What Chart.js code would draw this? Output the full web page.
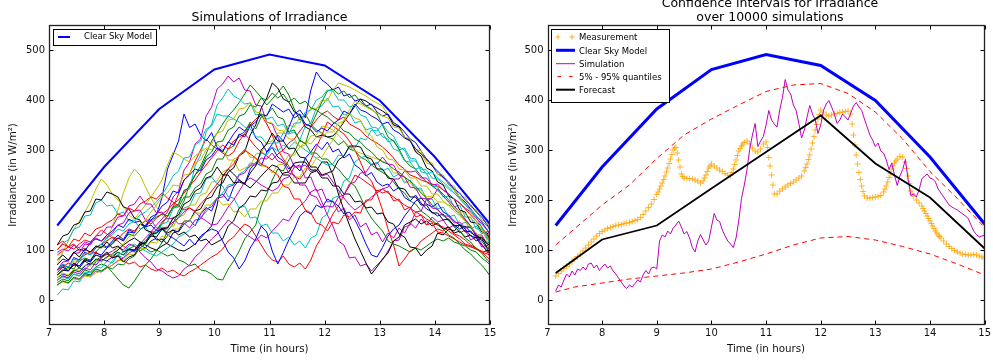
<!DOCTYPE html>
<html><head><meta charset="utf-8">
<script src="https://cdn.jsdelivr.net/npm/chart.js@4.4.1/dist/chart.umd.min.js"></script>
<style>
html,body{margin:0;padding:0;background:#fff}
body{position:relative;width:993px;height:360px;overflow:hidden;font-family:"DejaVu Sans",sans-serif;color:#000}
canvas{position:absolute;top:0}
#c1{left:0}
#c2{left:500px}
.ttl{position:absolute;text-align:center;font-size:12.5px;white-space:nowrap}
#ov{position:absolute;left:0;top:0}
.lt{position:absolute;font-size:8.5px;line-height:10px;white-space:nowrap}
</style>
</head><body>
<canvas id="c1" width="500" height="360"></canvas>
<canvas id="c2" width="493" height="360"></canvas>
<div class="ttl" style="left:49px;width:441px;top:8.9px;line-height:15px">Simulations of Irradiance</div>
<div class="ttl" style="left:549px;width:442px;top:-3.7px;line-height:13.4px">Confidence intervals for Irradiance<br>over 10000 simulations</div>
<svg id="ov" width="993" height="360">
 <rect x="53.5" y="29.5" width="103" height="16" fill="#fff" stroke="#000" stroke-width="1"/>
 <line x1="58" y1="37" x2="70" y2="37" stroke="#0000ff" stroke-width="2"/>
 <rect x="551.5" y="29.5" width="118" height="73" fill="#fff" stroke="#000" stroke-width="1"/>
 <path d="M555.5 37h5M558 34.5v5M569.5 37h5M572 34.5v5" stroke="rgba(255,165,0,0.85)" stroke-width="1" fill="none"/>
 <line x1="556" y1="50.3" x2="575" y2="50.3" stroke="#0000ff" stroke-width="3"/>
 <line x1="556" y1="63.7" x2="575" y2="63.7" stroke="#bf00bf" stroke-width="1"/>
 <path d="M557.5 76.5h3.5M569 76.5h3.5" stroke="#ff0000" stroke-width="1" fill="none"/>
 <line x1="556" y1="89.7" x2="575" y2="89.7" stroke="#000" stroke-width="2"/>
</svg>
<span class="lt" style="left:84px;top:30.8px">Clear Sky Model</span>
<span class="lt" style="left:579px;top:32.3px">Measurement</span>
<span class="lt" style="left:579px;top:45.6px">Clear Sky Model</span>
<span class="lt" style="left:579px;top:58.9px">Simulation</span>
<span class="lt" style="left:579px;top:71.8px">5% - 95% quantiles</span>
<span class="lt" style="left:579px;top:85px">Forecast</span>
<script>
// ---------- DATA ----------
const xTicks = [7, 8, 9, 10, 11, 12, 13, 14, 15];
const yTicks = [0, 100, 200, 300, 400, 500];

const clearTimes = [7.15, 8, 9, 10, 11, 12, 13, 14, 15];
const clearSky = [149, 266, 382, 461, 491, 469, 399, 286, 152];

const forecastTimes = [7.15, 8, 9, 10, 11, 12, 13, 14, 15];
const forecast = [54, 121, 149, 223, 296, 369, 273, 205, 103];

const quantTimes = [7.15, 7.5, 8, 8.5, 9, 9.5, 10, 10.5, 11, 11.5, 12, 12.5, 13, 13.5, 14, 14.5, 15];
const q95 = [110, 143, 190, 230, 283, 330, 362, 390, 417, 430, 433, 413, 376, 322, 257, 203, 145];
const q05 = [16, 26, 34, 42, 48, 54, 62, 76, 92, 110, 124, 127, 120, 107, 92, 72, 50];

const measTimes = [
7.15,7.2,7.25,7.3,7.35,7.4,7.45,7.5,7.55,7.6,7.65,7.7,7.75,7.8,7.85,7.9,7.95,8,8.05,8.1,
8.15,8.2,8.25,8.3,8.35,8.4,8.45,8.5,8.55,8.6,8.65,8.7,8.75,8.8,8.85,8.9,8.95,
9,9.025,9.05,9.075,9.1,9.125,9.15,9.175,9.2,9.225,9.25,9.275,9.3,9.325,9.35,9.375,9.4,9.425,9.45,9.475,9.5,
9.55,9.6,9.65,9.7,9.75,9.8,9.85,9.875,9.9,9.925,9.95,9.975,10,10.05,10.1,
10.15,10.2,10.25,10.3,10.35,10.375,10.4,10.425,10.45,10.475,10.5,10.525,10.55,10.575,10.6,
10.65,10.7,10.75,10.8,10.85,10.9,10.95,11,11.025,11.05,11.075,11.1,11.125,
11.15,11.2,11.25,11.3,11.35,11.4,11.45,11.5,11.55,11.6,11.65,11.7,11.725,11.75,11.775,11.8,11.825,11.85,11.875,11.9,11.925,11.95,11.975,12,12.05,12.1,
12.15,12.2,12.25,12.3,12.35,12.4,12.45,12.5,12.55,12.575,12.6,12.625,12.65,12.675,12.7,12.725,12.75,12.775,12.8,12.85,12.9,12.95,13,13.05,13.1,
13.15,13.175,13.2,13.225,13.25,13.275,13.3,13.325,13.35,13.375,13.4,13.45,13.5,13.55,13.575,13.6,13.625,13.65,13.675,13.7,13.75,13.8,13.85,
13.875,13.9,13.925,13.95,13.975,14,14.025,14.05,14.075,14.1,14.125,14.15,14.175,14.2,
14.25,14.3,14.35,14.4,14.45,14.5,14.55,14.6,14.65,14.7,14.75,14.8,14.85,14.9,14.95,15];
const measurement = [
48,53,58,63,67,72,77,82,87,92,98,104,110,116,122,128,133,137,140,143,
145,147,149,150,151,153,154,155,157,159,161,165,171,178,185,192,201,
211,216,222,228,234,241,248,256,264,273,282,291,300,304,305,294,280,266,252,247,244,
243,243,242,240,238,234,238,244,250,257,264,268,272,268,264,
260,257,253,250,249,255,262,271,280,289,298,303,308,312,315,
318,312,304,298,296,302,312,316,305,285,268,250,230,
212,212,218,222,226,230,233,236,240,244,248,258,265,272,281,290,302,314,327,340,351,362,371,380,376,370,
368,370,372,373,375,376,377,378,372,352,330,310,290,272,255,241,228,217,208,204,204,205,206,207,209,
216,222,228,236,245,253,262,268,274,278,282,287,286,276,263,248,233,218,212,208,200,194,188,
183,178,173,168,163,158,153,148,143,138,134,130,127,124,
118,112,107,103,99,96,94,92,91,90,90,91,90,88,86,84];

const simuTimes = [
7.15,7.2,7.25,7.3,7.35,7.4,7.45,7.5,7.55,7.6,7.65,7.7,7.75,7.8,7.85,7.9,7.95,8,8.05,8.1,
8.15,8.2,8.25,8.3,8.35,8.4,8.45,8.5,8.55,8.6,8.65,8.7,8.75,8.8,8.85,8.9,8.95,9,9.05,9.1,
9.15,9.2,9.25,9.3,9.35,9.4,9.45,9.5,9.55,9.6,9.65,9.7,9.75,9.8,9.85,9.9,9.95,10,10.05,10.1,
10.15,10.2,10.25,10.3,10.35,10.4,10.45,10.5,10.55,10.6,10.65,10.7,10.75,10.8,10.85,10.9,10.95,11,11.05,11.1,
11.15,11.2,11.25,11.3,11.35,11.4,11.45,11.5,11.55,11.6,11.65,11.7,11.75,11.8,11.85,11.9,11.95,12,12.05,12.1,
12.15,12.2,12.25,12.3,12.35,12.4,12.45,12.5,12.55,12.6,12.65,12.7,12.75,12.8,12.85,12.9,12.95,13,13.05,13.1,
13.15,13.2,13.25,13.3,13.35,13.4,13.45,13.5,13.55,13.6,13.65,13.7,13.75,13.8,13.85,13.9,13.95,14,14.05,14.1,
14.15,14.2,14.25,14.3,14.35,14.4,14.45,14.5,14.55,14.6,14.65,14.7,14.75,14.8,14.85,14.9,14.95,15];
const simulation = [
18,30,26,40,52,46,58,50,62,59,66,60,72,74,64,70,59,66,72,64,
68,58,52,44,36,28,23,30,26,33,40,36,50,59,52,64,66,62,118,130,
126,138,132,144,150,158,146,132,137,124,105,96,118,131,120,110,118,146,173,160,
157,140,128,118,112,105,124,158,203,229,260,301,330,353,307,318,327,350,379,360,
352,346,380,405,441,420,412,390,379,353,324,340,366,389,372,360,333,350,379,392,
399,386,372,353,360,372,366,360,374,388,395,386,379,362,346,330,320,307,314,298,
294,280,261,274,250,229,248,261,281,240,209,212,206,220,242,248,252,244,242,236,
222,214,206,198,190,186,183,180,176,172,168,163,150,138,131,126,128,130];

const simTimes = [
7.15,7.25,7.35,7.45,7.55,7.65,7.75,7.85,7.95,8.05,
8.15,8.25,8.35,8.45,8.55,8.65,8.75,8.85,8.95,9.05,
9.15,9.25,9.35,9.45,9.55,9.65,9.75,9.85,9.95,10.05,
10.15,10.25,10.35,10.45,10.55,10.65,10.75,10.85,10.95,11.05,
11.15,11.25,11.35,11.45,11.55,11.65,11.75,11.85,11.95,12.05,
12.15,12.25,12.35,12.45,12.55,12.65,12.75,12.85,12.95,13.05,
13.15,13.25,13.35,13.45,13.55,13.65,13.75,13.85,13.95,14.05,
14.15,14.25,14.35,14.45,14.55,14.65,14.75,14.85,14.95,15];

const simB1 = [60,72,64,85,80,96,90,104,112,106,118,130,121,140,135,152,146,160,170,205,262,290,318,372,345,352,330,318,335,305,298,315,332,346,338,352,324,316,296,305,286,278,262,270,258,284,296,312,301,316,296,302,284,292,270,262,248,255,236,228,232,218,225,205,198,210,194,182,176,168,172,158,150,142,148,135,128,120,112,108];
const simG1 = [35,42,38,52,48,60,56,66,72,68,55,42,30,24,38,55,70,82,98,115,138,152,178,198,232,250,268,292,318,334,352,368,380,395,412,430,418,405,390,402,415,428,410,382,360,372,352,340,334,326,322,310,318,302,298,286,280,270,262,255,248,236,222,214,198,192,178,170,160,150,142,130,124,112,100,92,80,70,56,48];
const simR1 = [90,98,106,102,112,120,116,128,140,132,124,118,108,100,96,110,118,132,140,152,168,186,212,240,252,278,300,322,310,302,294,288,296,318,332,350,362,370,352,330,300,282,268,246,242,256,280,305,330,356,348,340,332,318,300,276,250,238,212,180,142,110,68,82,98,104,118,126,134,142,138,146,132,128,120,110,104,96,86,80];
const simC1 = [10,22,20,38,36,52,50,66,64,78,74,90,84,100,96,116,114,138,134,152,156,182,190,220,222,268,290,336,352,390,404,422,408,402,392,394,370,372,362,366,348,352,332,336,320,348,354,384,388,404,386,388,370,374,354,358,340,344,328,334,316,320,300,304,284,282,256,254,228,226,206,208,186,190,166,166,142,144,122,120];
const simM1 = [30,38,34,44,40,50,48,58,56,64,70,78,84,94,100,112,124,136,150,162,176,206,218,260,276,312,322,368,386,422,432,448,436,444,420,418,390,388,356,352,326,296,292,266,270,244,246,218,222,196,198,176,184,160,170,146,154,130,136,116,134,124,144,134,154,144,162,150,166,156,160,144,150,134,140,120,126,106,110,100];
const simY1 = [70,96,118,142,158,176,196,222,242,230,212,200,188,170,162,176,190,206,222,240,270,296,290,282,276,288,296,304,300,312,300,280,280,258,264,266,292,294,316,318,334,334,350,346,366,364,384,382,400,398,420,434,430,426,420,414,408,400,394,388,370,352,348,326,320,298,294,274,270,252,250,230,228,206,206,186,180,160,156,140];
const simK1 = [60,70,58,74,64,78,70,82,78,86,92,100,110,118,124,116,110,104,100,108,114,134,138,158,158,178,182,202,206,226,234,256,264,288,296,330,350,384,404,434,424,402,396,376,370,346,340,326,330,326,328,340,356,372,388,402,398,390,384,378,370,350,346,326,320,296,288,264,258,236,230,208,202,180,176,156,154,136,134,120];
const simB2 = [45,52,48,60,56,68,74,70,82,78,86,95,90,102,98,110,104,118,124,115,128,140,136,152,160,148,172,185,178,204,212,198,226,240,232,262,275,268,296,312,330,318,345,372,380,365,420,456,440,432,420,426,408,412,398,402,388,392,376,368,372,355,348,336,322,315,298,282,270,252,246,232,220,205,196,182,168,156,140,132];
const simG2 = [40,48,44,58,64,60,72,80,86,92,88,96,90,102,108,98,104,96,100,94,88,92,80,76,68,72,60,58,52,42,40,62,78,98,122,136,150,188,212,240,262,258,280,296,320,312,348,372,396,418,422,412,418,405,410,396,388,382,372,350,326,318,302,280,268,262,248,236,228,220,208,196,182,172,160,148,132,118,102,92];
const simR2 = [110,118,106,112,98,104,92,96,88,92,84,90,78,72,76,66,70,62,58,64,56,60,52,48,56,62,70,78,86,92,102,118,126,140,152,146,128,110,92,80,76,88,72,66,74,62,80,108,126,150,172,188,210,228,250,244,236,228,218,222,214,206,198,190,184,176,170,162,156,150,146,138,130,122,112,108,102,96,92,90];
const simC2 = [100,114,120,142,146,168,170,194,200,188,190,172,176,158,160,142,146,128,134,140,142,164,166,184,188,212,214,242,246,232,228,206,204,184,188,164,166,148,152,134,134,118,126,110,118,104,124,130,164,172,204,208,238,244,276,284,288,270,276,258,264,246,252,234,240,222,224,200,202,182,186,166,170,150,156,142,148,132,138,130];
const simM2 = [40,48,44,56,52,64,60,76,84,92,98,106,100,112,108,96,84,76,62,58,50,44,48,62,70,86,96,110,122,132,146,160,152,144,132,126,118,130,124,138,150,162,158,176,188,198,216,222,196,170,148,118,110,84,86,68,72,58,70,80,98,118,120,146,150,176,178,202,204,222,212,200,188,176,162,148,130,112,96,86];
const simY2 = [50,62,62,78,78,94,92,108,106,120,148,180,214,244,262,250,226,204,186,170,160,146,166,170,190,190,210,214,236,238,256,262,282,286,302,286,284,268,268,254,270,272,290,290,306,310,328,330,348,346,340,330,318,306,298,294,290,286,282,278,272,254,254,236,236,220,220,206,208,196,196,190,184,178,172,164,154,142,128,120];
const simK2 = [110,128,132,150,154,176,178,202,200,216,212,206,186,182,164,160,140,136,120,122,112,106,100,98,104,112,124,136,148,190,248,262,252,240,232,224,236,248,260,270,266,250,250,234,234,234,254,258,276,276,250,212,180,150,122,98,74,52,66,82,94,118,126,150,156,162,152,158,148,154,142,146,134,138,126,130,118,124,114,115];
const simB3 = [70,82,78,95,102,98,115,122,118,130,138,150,145,162,155,158,146,150,138,142,130,124,116,108,122,110,128,136,142,138,118,96,84,62,78,104,122,148,136,98,72,95,120,142,168,178,172,190,184,202,196,188,172,176,160,138,112,90,86,105,128,142,150,168,182,198,204,192,186,194,176,170,158,150,142,128,124,110,98,95];
const simG3 = [50,58,66,62,78,84,80,96,108,104,116,124,120,132,128,140,150,158,166,172,168,186,186,206,206,224,232,252,258,282,282,302,308,330,336,356,342,366,370,384,366,362,336,340,318,314,294,294,282,282,270,262,248,236,228,206,182,164,150,138,118,112,108,102,96,104,100,108,116,122,118,124,116,112,108,100,96,84,76,70];
const simR3 = [60,66,74,70,82,90,96,104,112,118,126,122,134,142,138,150,158,152,164,172,180,192,200,214,228,240,256,270,284,298,310,302,318,326,332,320,306,296,288,280,292,300,314,322,338,352,346,360,372,378,368,360,366,352,346,340,328,320,314,306,296,284,270,262,250,246,240,236,232,228,220,212,202,194,182,170,158,146,130,120];
const simC3 = [40,46,42,52,48,56,54,62,58,66,78,90,96,108,112,104,98,92,88,96,104,112,126,132,140,150,164,176,192,204,214,230,232,252,258,274,272,294,290,306,298,310,304,316,308,300,292,284,276,270,272,290,288,306,304,324,320,340,338,352,336,328,306,300,278,278,262,260,244,242,232,222,214,204,192,180,166,146,126,110];
const simM3 = [95,102,98,110,104,116,112,124,118,126,134,150,154,174,178,180,160,160,144,144,146,156,164,176,184,176,166,158,150,152,168,186,200,218,236,244,238,230,224,218,224,242,246,266,266,270,256,260,248,252,236,220,204,190,180,188,196,206,214,222,226,242,242,258,256,258,244,244,230,232,220,212,202,194,184,176,164,152,140,130];
const simY3 = [30,36,34,42,40,48,46,54,58,64,70,80,78,92,90,104,102,116,114,128,126,142,142,158,158,174,174,190,190,204,190,192,176,178,166,182,182,198,198,214,214,230,230,246,246,264,266,284,286,304,320,340,360,380,398,392,386,380,374,368,364,346,344,326,322,302,298,278,274,252,244,232,220,206,192,176,158,140,118,100];
const simK3 = [50,60,58,70,68,80,76,90,86,96,84,88,76,86,90,110,114,132,134,144,134,140,130,136,126,130,118,122,110,116,122,148,158,184,192,208,206,220,218,234,236,254,256,274,276,276,260,260,244,244,228,228,212,212,196,198,184,186,172,174,156,152,132,126,106,104,88,100,108,134,130,142,138,150,146,146,128,124,104,100];
const simB4 = [55,66,58,74,68,82,78,94,90,104,112,124,118,136,134,152,148,166,172,188,196,218,214,240,250,262,258,280,288,304,296,316,310,332,326,348,356,372,368,392,384,376,382,364,372,352,348,336,344,338,352,360,378,372,392,380,376,368,362,352,356,340,334,324,318,302,292,282,268,258,246,236,222,214,200,190,176,166,150,140];
const simG4 = [30,38,34,46,42,54,50,62,58,66,62,72,70,82,88,104,112,130,140,156,166,186,192,218,226,250,262,286,296,316,318,340,346,368,372,390,386,404,400,414,404,412,396,404,392,398,384,380,372,366,356,350,338,334,322,316,304,296,284,276,272,262,256,246,238,228,214,204,190,180,170,160,146,138,124,116,102,94,80,75];
const simR4 = [100,112,106,122,118,134,128,142,146,154,160,172,168,184,178,192,198,206,202,214,204,196,188,180,184,178,192,204,218,232,246,262,272,290,300,292,284,272,266,258,250,228,224,202,202,180,174,154,150,138,156,152,170,166,176,174,200,200,220,214,218,198,202,180,186,166,170,150,154,136,134,128,122,116,110,106,102,98,96,95];
const simC4 = [60,72,66,82,78,94,90,106,112,124,130,142,138,152,158,170,176,186,196,210,228,248,258,284,286,310,318,342,348,372,368,368,362,356,346,342,326,326,312,314,314,334,332,354,354,376,380,400,406,420,418,400,400,386,390,370,366,346,344,326,322,302,298,278,276,262,266,252,256,244,236,226,214,202,190,180,168,158,148,140];
const simM4 = [60,76,78,94,94,112,110,128,130,146,146,166,168,188,192,208,192,192,174,176,162,164,152,154,144,160,162,182,186,204,206,226,230,250,254,270,270,284,282,294,278,274,254,250,230,230,210,206,186,188,186,206,210,232,236,254,256,272,272,286,272,270,250,246,226,224,204,202,184,182,168,168,154,156,144,146,130,130,112,110];
const simY4 = [45,54,50,62,58,70,68,78,76,84,92,106,112,126,132,150,160,176,190,206,214,230,228,250,252,274,280,300,312,334,338,360,362,382,384,396,376,374,356,354,340,338,322,322,306,316,312,326,324,336,336,354,358,374,364,360,336,328,306,300,282,280,262,260,244,244,228,228,212,212,198,188,178,168,158,146,134,124,112,105];
const simK4 = [80,90,80,96,86,102,96,108,104,116,104,108,96,102,100,114,114,128,126,142,144,164,170,192,198,218,224,244,248,266,250,250,234,236,232,254,268,300,312,334,318,318,302,304,286,284,266,266,250,254,258,280,288,308,308,306,286,282,262,262,244,242,224,222,206,206,190,190,174,174,160,162,148,150,136,138,124,126,112,110];

const simulations = [simB1, simG1, simR1, simC1, simM1, simY1, simK1,
                     simB2, simG2, simR2, simC2, simM2, simY2, simK2,
                     simB3, simG3, simR3, simC3, simM3, simY3, simK3,
                     simB4, simG4, simR4, simC4, simM4, simY4, simK4];
const cycleColors = ['#0000ff', '#008000', '#ff0000', '#00bfbf', '#bf00bf', '#bfbf00', '#000000'];

// ---------- HELPERS ----------
const pts = (xs, ys) => xs.map((x, i) => ({x: x, y: ys[i]}));
const FONT = 'DejaVu Sans';

const framePlugin = {
  id: 'frame',
  afterDatasetsDraw(chart) {
    const {ctx, chartArea: a, scales} = chart;
    const L = Math.round(a.left) + 0.5, R = Math.round(a.right) - 0.5;
    const T = Math.round(a.top) + 0.5, B = Math.round(a.bottom) - 0.5;
    ctx.save();
    ctx.strokeStyle = '#000';
    ctx.lineWidth = 1;
    ctx.beginPath();
    xTicks.forEach(v => {
      const px = Math.round(scales.x.getPixelForValue(v)) + 0.5;
      ctx.moveTo(px, B); ctx.lineTo(px, B - 4);
      ctx.moveTo(px, T); ctx.lineTo(px, T + 4);
    });
    yTicks.forEach(v => {
      const py = Math.round(scales.y.getPixelForValue(v)) + 0.5;
      ctx.moveTo(L, py); ctx.lineTo(L + 4, py);
      ctx.moveTo(R, py); ctx.lineTo(R - 4, py);
    });
    ctx.stroke();
    ctx.strokeStyle = '#222';
    ctx.lineWidth = 1.3;
    ctx.strokeRect(L, T, R - L, B - T);
    ctx.restore();
  }
};

function makeOptions(yWidth, padRight) {
  return {
    responsive: false,
    animation: false,
    devicePixelRatio: 1,
    layout: {autoPadding: false, padding: {left: 0, right: padRight, top: 25, bottom: 0}},
    plugins: {legend: {display: false}, tooltip: {enabled: false}, title: {display: false}},
    elements: {point: {radius: 0}, line: {tension: 0, fill: false}},
    scales: {
      x: {
        type: 'linear', min: 7, max: 15,
        afterBuildTicks: s => { s.ticks = xTicks.map(v => ({value: v})); },
        afterFit: s => { s.height = 35; },
        grid: {display: false, drawTicks: false},
        border: {display: false},
        ticks: {padding: 2, color: '#111', font: {family: FONT, size: 10}, maxRotation: 0, autoSkip: false},
        title: {display: true, text: 'Time (in hours)', color: '#111', font: {family: FONT, size: 10.3}, padding: {top: 0, bottom: 4.8}}
      },
      y: {
        type: 'linear', min: -50, max: 550,
        afterBuildTicks: s => { s.ticks = yTicks.map(v => ({value: v})); },
        afterFit: s => { s.width = yWidth; },
        grid: {display: false, drawTicks: false},
        border: {display: false},
        ticks: {padding: 4, color: '#111', font: {family: FONT, size: 10}, autoSkip: false},
        title: {display: true, text: 'Irradiance (in W/m²)', color: '#111', font: {family: FONT, size: 10.3}, padding: {top: 7, bottom: 0}}
      }
    }
  };
}

// ---------- LEFT CHART ----------
const leftSets = [{
  label: 'Clear Sky Model', data: pts(clearTimes, clearSky),
  borderColor: '#0000ff', borderWidth: 2, pointRadius: 0, order: 0
}];
simulations.forEach((arr, i) => {
  leftSets.push({
    label: 'Simulation ' + (i + 1), data: pts(simTimes, arr),
    borderColor: cycleColors[i % cycleColors.length], borderWidth: 1, pointRadius: 0,
    order: 100 - i
  });
});
new Chart(document.getElementById('c1'), {
  type: 'line',
  data: {datasets: leftSets},
  options: makeOptions(49, 10),
  plugins: [framePlugin]
});

// ---------- RIGHT CHART ----------
new Chart(document.getElementById('c2'), {
  type: 'line',
  data: {datasets: [
    {label: 'Forecast', data: pts(forecastTimes, forecast), borderColor: '#000', borderWidth: 1.8, pointRadius: 0, order: 1},
    {label: '5% - 95% quantiles', data: pts(quantTimes, q95), borderColor: '#ff0000', borderWidth: 1, borderDash: [5, 4], pointRadius: 0, order: 2},
    {label: '5% quantile', data: pts(quantTimes, q05), borderColor: '#ff0000', borderWidth: 1, borderDash: [5, 4], pointRadius: 0, order: 2},
    {label: 'Simulation', data: pts(simuTimes, simulation), borderColor: '#bf00bf', borderWidth: 1, pointRadius: 0, order: 3},
    {label: 'Clear Sky Model', data: pts(clearTimes, clearSky), borderColor: '#0000ff', borderWidth: 3, pointRadius: 0, order: 4},
    {label: 'Measurement', data: pts(measTimes, measurement), showLine: false, pointStyle: 'cross',
     pointRadius: 3, pointBorderWidth: 1, pointBorderColor: 'rgba(255,165,0,0.8)', pointBackgroundColor: 'rgba(255,165,0,0.8)', order: 5}
  ]},
  options: makeOptions(47.5, 3.7),
  plugins: [framePlugin]
});
</script>
</body></html>
